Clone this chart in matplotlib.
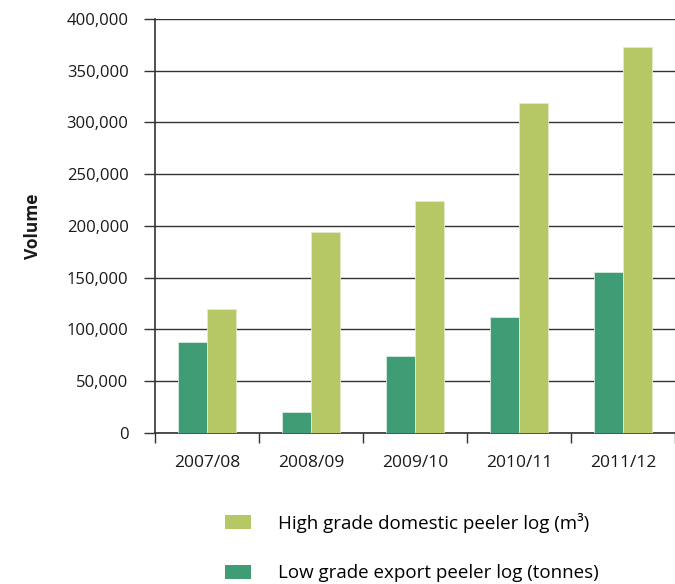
import numpy as np
import matplotlib
matplotlib.use('Agg')
import matplotlib.pyplot as plt
from matplotlib.patches import Patch
from matplotlib.ticker import FuncFormatter

plt.rcParams['font.family'] = ['Open Sans', 'DejaVu Sans']

years = ['2007/08', '2008/09', '2009/10', '2010/11', '2011/12']
low_grade_export = [88000, 20000, 74000, 112000, 156000]
high_grade_domestic = [120000, 194000, 224000, 319000, 373000]
y_ticks = [0, 50000, 100000, 150000, 200000, 250000, 300000, 350000, 400000]

dark_green = '#3f9c74'
light_green = '#b6c865'

fig = plt.figure(figsize=(6.75, 5.84), dpi=100)
ax = fig.add_axes([0.2296, 0.2586, 0.7704, 0.7089])

x = np.arange(len(years))
w = 0.28
ax.bar(x - w / 2, low_grade_export, w, color=dark_green, edgecolor='#d9eadf', linewidth=0.6, zorder=3)
ax.bar(x + w / 2, high_grade_domestic, w, color=light_green, edgecolor='#e4ebc8', linewidth=0.6, zorder=3)

ax.set_xlim(-0.5, len(years) - 0.5)
ax.set_ylim(0, 400000)
ax.set_yticks(y_ticks)
ax.yaxis.set_major_formatter(FuncFormatter(lambda v, p: f'{int(v):,}'))
ax.grid(axis='y', color='#333333', linewidth=1.0, zorder=1)

# category boundaries get the tick marks, labels sit in the middle
ax.set_xticks(np.arange(len(years) + 1) - 0.5)
ax.set_xticklabels([])
ax.set_xticks(x, minor=True)
ax.set_xticklabels(years, minor=True)
ax.tick_params(axis='x', which='minor', length=0, pad=16, labelsize=12.5, colors='#1a1a1a')
ax.tick_params(axis='x', which='major', length=7, width=1, color='#333333')
ax.tick_params(axis='y', length=8, width=1, color='#333333', labelsize=12, pad=11, labelcolor='#1a1a1a')

for s in ['top', 'right']:
    ax.spines[s].set_visible(False)
for s in ['left', 'bottom']:
    ax.spines[s].set_color('#333333')
    ax.spines[s].set_linewidth(1.2)

ax.set_ylabel('Volume', fontsize=12.5, fontweight='bold', color='#1a1a1a')
ax.yaxis.set_label_coords(-0.217, 0.5)

handles = [Patch(facecolor=light_green, edgecolor='none'),
           Patch(facecolor=dark_green, edgecolor='none')]
labels = ['High grade domestic peeler log (m³)', 'Low grade export peeler log (tonnes)']
fig.legend(handles, labels, loc='upper left', bbox_to_anchor=(0.333, 0.122), frameon=False,
           fontsize=13.5, handlelength=1.39, handleheight=0.8, handletextpad=1.44,
           labelspacing=1.68, borderaxespad=0, borderpad=0)

plt.savefig('out.png', dpi=100)
